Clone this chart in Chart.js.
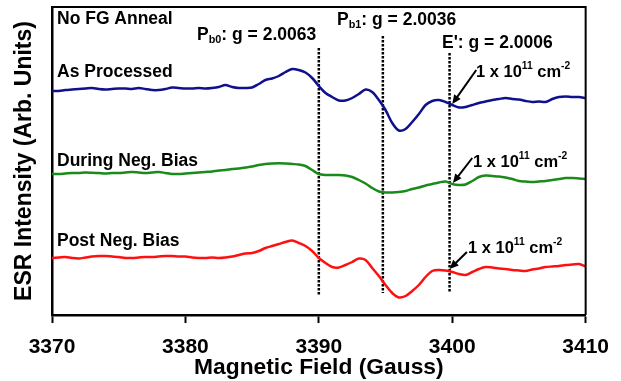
<!DOCTYPE html>
<html>
<head>
<meta charset="utf-8">
<script src="https://cdn.jsdelivr.net/npm/chart.js@4"></script>
<style>
  html, body { margin: 0; padding: 0; background: #fff; }
  #wrap { width: 621px; height: 381px; }
</style>
</head>
<body>
<div id="wrap"><canvas id="esrChart" width="621" height="381"></canvas></div>
<script>
// magnetic field (Gauss), sampled every 0.5 G
const field = [
  3370, 3370.5, 3371, 3371.5, 3372, 3372.5, 3373, 3373.5, 3374, 3374.5,
  3375, 3375.5, 3376, 3376.5, 3377, 3377.5, 3378, 3378.5, 3379, 3379.5,
  3380, 3380.5, 3381, 3381.5, 3382, 3382.5, 3383, 3383.5, 3384, 3384.5,
  3385, 3385.5, 3386, 3386.5, 3387, 3387.5, 3388, 3388.5, 3389, 3389.5,
  3390, 3390.5, 3391, 3391.5, 3392, 3392.5, 3393, 3393.5, 3394, 3394.5,
  3395, 3395.5, 3396, 3396.5, 3397, 3397.5, 3398, 3398.5, 3399, 3399.5,
  3400, 3400.5, 3401, 3401.5, 3402, 3402.5, 3403, 3403.5, 3404, 3404.5,
  3405, 3405.5, 3406, 3406.5, 3407, 3407.5, 3408, 3408.5, 3409, 3409.5,
  3410
];

// ESR intensity (arb. units, traces offset vertically)
const asProcessed = [
  224, 224, 225, 225.5, 226, 226.5, 227, 226, 225.5, 226,
  226.5, 226.5, 226, 227, 226, 225, 225, 226, 227.5, 227,
  226.5, 226.5, 227, 226.5, 227, 228, 230, 228, 227, 227,
  227.5, 231, 235, 236.5, 239, 243, 246, 245, 242.5, 237,
  229, 222, 218, 214.5, 214.5, 217, 221, 225.5, 223, 215,
  205, 192, 184.5, 186, 193, 201, 210, 214, 215, 213,
  210, 207.5, 208, 210, 212, 213.5, 215, 216, 217, 216,
  215.5, 214, 213, 213.5, 213, 216, 218, 218.5, 218, 218,
  217
];
const duringBias = [
  141, 141, 141.5, 142, 142, 142.5, 142.3, 142, 141.5, 142,
  142, 142.5, 143, 142.5, 142, 142.5, 143, 142, 141, 141,
  141.5, 142, 142.5, 143, 143.5, 144.5, 145, 146, 146.5, 147.5,
  148.5, 150, 151, 151.5, 151.7, 151.5, 151, 150.5, 149, 145,
  141, 140, 140, 140, 139.5, 138, 135, 131.5, 127, 123.5,
  122.5, 122.5, 123, 124, 126, 127.5, 129.5, 131, 132.5, 133.5,
  131, 130, 130.5, 134, 138, 139.5, 139, 138.5, 137.5, 136,
  134, 133.5, 133, 133.5, 134, 135, 136, 137, 137, 136.5,
  136
];
const postBias = [
  57, 57.5, 58, 57, 56.5, 57.5, 58.5, 59, 59, 58.5,
  58, 57, 57, 57.5, 58, 58, 58.5, 59, 59, 58.5,
  58.5, 57.5, 57, 57, 57.5, 57, 57.5, 58.5, 60, 61.5,
  62, 64, 67, 69, 71, 73, 74.5, 72, 69, 64,
  57, 52, 48, 47.5, 50, 53, 56.5, 55, 47, 39,
  30, 22, 17.5, 19, 24, 30, 38, 44, 45, 44.5,
  43, 41, 40, 43, 46, 48, 47.5, 46.5, 46, 45,
  44.5, 44, 45.5, 46.5, 48, 48.5, 49, 50, 50.5, 51,
  48.5
];

// g-value marker lines (field, top, bottom in intensity units)
const markerField = [3390, 3394.8, 3399.8];
const markerTop = [267, 279, 262];
const markerBottom = [20, 22, 23];

// "1 x 10^11 cm^-2" arrows: tail and tip (field, intensity)
const arrowTail = [[3401.8, 245], [3401.5, 157], [3401.1, 63]];
const arrowTip = [[3400.0, 211], [3400.05, 132], [3399.8, 46]];

const FONT = '"Liberation Sans", Arial, sans-serif';

function toPoints(ys) {
  return field.map((x, i) => ({ x: x, y: ys[i] }));
}

function traceSet(ys, color) {
  return {
    data: toPoints(ys),
    borderColor: color,
    borderWidth: 2.5,
    pointRadius: 0,
    tension: 0.3,
    fill: false,
  };
}

const markerSets = markerField.map((f, i) => ({
  data: [{ x: f, y: markerTop[i] }, { x: f, y: markerBottom[i] }],
  borderColor: "#000",
  borderWidth: 2.5,
  borderDash: [2.5, 1.5],
  pointRadius: 0,
  fill: false,
}));

function drawRich(ctx, x, y, parts, size) {
  ctx.textBaseline = "middle";
  ctx.textAlign = "left";
  parts.forEach((p) => {
    let s = size, dy = 0;
    if (p.sub) { s = size * 0.62; dy = size * 0.3; }
    if (p.sup) { s = size * 0.62; dy = -size * 0.38; }
    ctx.font = `bold ${s}px ${FONT}`;
    ctx.fillText(p.t, x, y + dy);
    x += ctx.measureText(p.t).width;
  });
}

const annotations = {
  id: "annotations",
  afterDatasetsDraw(chart) {
    const { ctx, chartArea, scales } = chart;
    const xs = scales.x, ys = scales.y;
    ctx.save();
    // frame top + right
    ctx.strokeStyle = "#000";
    ctx.lineWidth = 2;
    ctx.beginPath();
    ctx.moveTo(chartArea.left, chartArea.top);
    ctx.lineTo(chartArea.right, chartArea.top);
    ctx.lineTo(chartArea.right, chartArea.bottom);
    ctx.stroke();

    ctx.fillStyle = "#000";
    const sz = 17.5;
    drawRich(ctx, 57, 19.5, [{ t: "No FG Anneal" }], sz);
    drawRich(ctx, 57, 72, [{ t: "As Processed" }], sz);
    drawRich(ctx, 57, 161, [{ t: "During Neg. Bias" }], sz);
    drawRich(ctx, 57, 241, [{ t: "Post Neg. Bias" }], sz);
    drawRich(ctx, 197, 35, [{ t: "P" }, { t: "b0", sub: true }, { t: ": g = 2.0063" }], sz);
    drawRich(ctx, 337, 20, [{ t: "P" }, { t: "b1", sub: true }, { t: ": g = 2.0036" }], sz);
    drawRich(ctx, 442, 43, [{ t: "E': g = 2.0006" }], sz);

    const conc = [{ t: "1 x 10" }, { t: "11", sup: true }, { t: " cm" }, { t: "-2", sup: true }];
    const concPos = [[476, 72], [473, 162], [468, 248]];
    concPos.forEach((p) => drawRich(ctx, p[0], p[1], conc, 16.5));

    // arrows
    arrowTail.forEach((t, i) => {
      const x1 = xs.getPixelForValue(t[0]), y1 = ys.getPixelForValue(t[1]);
      const x2 = xs.getPixelForValue(arrowTip[i][0]), y2 = ys.getPixelForValue(arrowTip[i][1]);
      const a = Math.atan2(y2 - y1, x2 - x1);
      const hl = 9, hw = 4;
      ctx.lineWidth = 2;
      ctx.beginPath();
      ctx.moveTo(x1, y1);
      ctx.lineTo(x2 - Math.cos(a) * hl * 0.8, y2 - Math.sin(a) * hl * 0.8);
      ctx.stroke();
      ctx.beginPath();
      ctx.moveTo(x2, y2);
      ctx.lineTo(x2 - Math.cos(a) * hl - Math.sin(a) * hw, y2 - Math.sin(a) * hl + Math.cos(a) * hw);
      ctx.lineTo(x2 - Math.cos(a) * hl + Math.sin(a) * hw, y2 - Math.sin(a) * hl - Math.cos(a) * hw);
      ctx.closePath();
      ctx.fill();
    });
    ctx.restore();
  },
};

new Chart(document.getElementById("esrChart"), {
  type: "line",
  data: {
    datasets: [
      traceSet(asProcessed, "#10108c"),
      traceSet(duringBias, "#1a8a1a"),
      traceSet(postBias, "#ff1010"),
      ...markerSets,
    ],
  },
  options: {
    responsive: false,
    animation: false,
    layout: { padding: { left: 0, right: 35, top: 7, bottom: 0 } },
    plugins: { legend: { display: false }, tooltip: { enabled: false } },
    scales: {
      x: {
        type: "linear",
        min: 3370,
        max: 3410,
        afterFit: (s) => { s.height = 66; },
        ticks: {
          stepSize: 10,
          maxRotation: 0,
          padding: 12,
          color: "#000",
          font: { family: FONT, size: 21, weight: "bold" },
          callback: (v) => String(v),
        },
        grid: { drawOnChartArea: false, tickLength: 8, tickWidth: 2, color: "#000" },
        border: { color: "#000", width: 2.5 },
        title: {
          display: true,
          text: "Magnetic Field (Gauss)",
          color: "#000",
          font: { family: FONT, size: 22.8, weight: "bold" },
          padding: { top: 0, bottom: 0 },
        },
      },
      y: {
        min: 0,
        max: 308,
        afterFit: (s) => { s.width = 52; },
        ticks: { display: false },
        grid: { display: false },
        border: { color: "#000", width: 2.5 },
        title: {
          display: true,
          text: "ESR Intensity (Arb. Units)",
          color: "#000",
          font: { family: FONT, size: 23, weight: "bold" },
          padding: { top: 11, bottom: 0 },
        },
      },
    },
  },
  plugins: [annotations],
});
</script>
</body>
</html>
